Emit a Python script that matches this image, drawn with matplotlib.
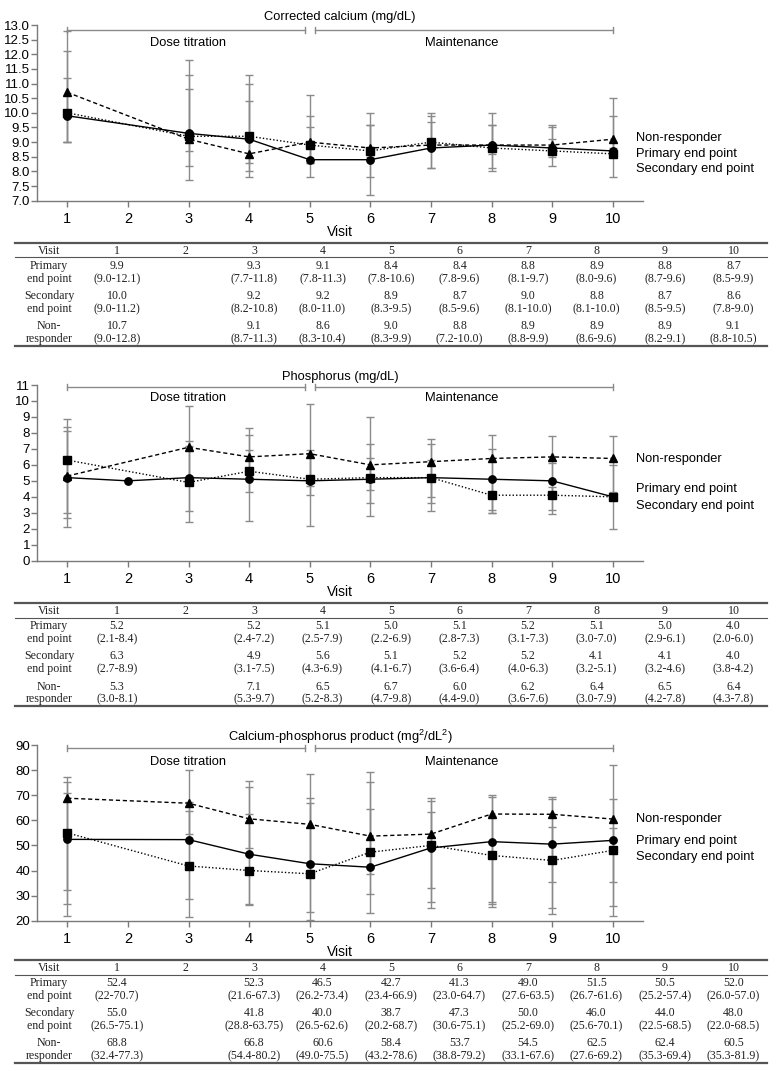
import numpy as np
import matplotlib
matplotlib.use("Agg")
import matplotlib.pyplot as plt

plt.rcParams['font.family'] = ['Liberation Sans', 'DejaVu Sans']
plt.rcParams['mathtext.fontset'] = 'custom'
plt.rcParams['mathtext.rm'] = 'Liberation Sans'

# visits that have values (visit 2 has none, except phosphorus primary)
visits = [1, 3, 4, 5, 6, 7, 8, 9, 10]
table_cols = ['1', '2', '3', '4', '5', '6', '7', '8', '9', '10']
row_names = [('Primary', 'end point'), ('Secondary', 'end point'), ('Non-', 'responder')]
legend_names = ['Non-responder', 'Primary end point', 'Secondary end point']

# corrected calcium (mg/dL): median, low, high
ca_prim = [9.9, 9.3, 9.1, 8.4, 8.4, 8.8, 8.9, 8.8, 8.7]
ca_prim_lo = [9.0, 7.7, 7.8, 7.8, 7.8, 8.1, 8.0, 8.7, 8.5]
ca_prim_hi = [12.1, 11.8, 11.3, 10.6, 9.6, 9.7, 9.6, 9.6, 9.9]
ca_sec = [10.0, 9.2, 9.2, 8.9, 8.7, 9.0, 8.8, 8.7, 8.6]
ca_sec_lo = [9.0, 8.2, 8.0, 8.3, 8.5, 8.1, 8.1, 8.5, 7.8]
ca_sec_hi = [11.2, 10.8, 11.0, 9.5, 9.6, 10.0, 10.0, 9.5, 9.0]
ca_non = [10.7, 9.1, 8.6, 9.0, 8.8, 8.9, 8.9, 8.9, 9.1]
ca_non_lo = [9.0, 8.7, 8.3, 8.3, 7.2, 8.8, 8.6, 8.2, 8.8]
ca_non_hi = [12.8, 11.3, 10.4, 9.9, 10.0, 9.9, 9.6, 9.1, 10.5]

# phosphorus (mg/dL)
ph_prim = [5.2, 5.2, 5.1, 5.0, 5.1, 5.2, 5.1, 5.0, 4.0]
ph_prim_lo = [2.1, 2.4, 2.5, 2.2, 2.8, 3.1, 3.0, 2.9, 2.0]
ph_prim_hi = [8.4, 7.2, 7.9, 6.9, 7.3, 7.3, 7.0, 6.1, 6.0]
ph_prim_visit2 = 5.0
ph_sec = [6.3, 4.9, 5.6, 5.1, 5.2, 5.2, 4.1, 4.1, 4.0]
ph_sec_lo = [2.7, 3.1, 4.3, 4.1, 3.6, 4.0, 3.2, 3.2, 3.8]
ph_sec_hi = [8.9, 7.5, 6.9, 6.7, 6.4, 6.3, 5.1, 4.6, 4.2]
ph_non = [5.3, 7.1, 6.5, 6.7, 6.0, 6.2, 6.4, 6.5, 6.4]
ph_non_lo = [3.0, 5.3, 5.2, 4.7, 4.4, 3.6, 3.0, 4.2, 4.3]
ph_non_hi = [8.1, 9.7, 8.3, 9.8, 9.0, 7.6, 7.9, 7.8, 7.8]

# calcium-phosphorus product (mg2/dL2)
cp_prim = [52.4, 52.3, 46.5, 42.7, 41.3, 49.0, 51.5, 50.5, 52.0]
cp_prim_lo = [22, 21.6, 26.2, 23.4, 23.0, 27.6, 26.7, 25.2, 26.0]
cp_prim_hi = [70.7, 67.3, 73.4, 66.9, 64.7, 63.5, 61.6, 57.4, 57.0]
cp_sec = [55.0, 41.8, 40.0, 38.7, 47.3, 50.0, 46.0, 44.0, 48.0]
cp_sec_lo = [26.5, 28.8, 26.5, 20.2, 30.6, 25.2, 25.6, 22.5, 22.0]
cp_sec_hi = [75.1, 63.75, 62.6, 68.7, 75.1, 69.0, 70.1, 68.5, 68.5]
cp_non = [68.8, 66.8, 60.6, 58.4, 53.7, 54.5, 62.5, 62.4, 60.5]
cp_non_lo = [32.4, 54.4, 49.0, 43.2, 38.8, 33.1, 27.6, 35.3, 35.3]
cp_non_hi = [77.3, 80.2, 75.5, 78.6, 79.2, 67.6, 69.2, 69.4, 81.9]

W, H = 782, 1081
GRAY = '#8a8a8a'
AXC = '#7a7a7a'
FS = 9.3
fig = plt.figure(figsize=(W / 100, H / 100), dpi=100)


def draw_panel(ax, prim, sec, non, ylim, yticks, yfmt, title, lab_y, br_y, ph_y, prim_line=None):
    x = np.array(visits)
    for med, lo, hi in [prim, sec, non]:
        med = np.array(med); lo = np.array(lo); hi = np.array(hi)
        ax.errorbar(x, med, yerr=[med - lo, hi - med], fmt='none', ecolor=GRAY,
                    elinewidth=1, capsize=3, capthick=1, zorder=1)
    px, py = (x, prim[0]) if prim_line is None else prim_line
    ax.plot(px, py, color='black', lw=1, ls='-', marker='o', ms=5.3, zorder=3)
    ax.plot(x, sec[0], color='black', lw=1, ls=(0, (1, 1.5)), marker='s', ms=5.2, zorder=3)
    ax.plot(x, non[0], color='black', lw=1, ls=(0, (3, 2)), marker='^', ms=5.8, zorder=3)

    ax.set_xlim(0.5, 10.5)
    ax.set_ylim(*ylim)
    ax.set_xticks(range(1, 11))
    ax.set_yticks(yticks)
    ax.set_yticklabels([yfmt % v for v in yticks])
    for s in ['top', 'right']:
        ax.spines[s].set_visible(False)
    for s in ['left', 'bottom']:
        ax.spines[s].set_color(AXC)
        ax.spines[s].set_linewidth(1)
    ax.tick_params(axis='both', colors=AXC, length=4, width=1, direction='out')
    ax.tick_params(axis='y', labelcolor='black', labelsize=9.5, pad=1)
    ax.tick_params(axis='x', labelcolor='black', labelsize=10.5, pad=4)
    ax.set_xlabel('Visit', fontsize=10, labelpad=0)
    ax.xaxis.set_label_coords(0.5, -0.14)

    ax.text(0.5, 1.045, title, transform=ax.transAxes, ha='center', va='center', fontsize=FS)

    # phase bracket
    tr = ax.get_xaxis_transform()
    segs = [(1, 4.92), (5.08, 10)]
    for a, b in segs:
        ax.plot([a, b], [br_y, br_y], color=GRAY, lw=1, transform=tr, clip_on=False)
        for e in (a, b):
            ax.plot([e, e], [br_y - 0.015, br_y + 0.015], color=GRAY, lw=1,
                    transform=tr, clip_on=False)
    ax.text(3, ph_y, 'Dose titration', transform=tr, ha='center', va='center', fontsize=FS)
    ax.text(7.5, ph_y, 'Maintenance', transform=tr, ha='center', va='center', fontsize=FS)

    for name, yy in zip(legend_names, lab_y):
        ax.text(10.38, yy, name, ha='left', va='center', fontsize=FS, clip_on=False)


def add_axes_px(top, bottom):
    return fig.add_axes([37 / W, (H - bottom) / H, 606 / W, (bottom - top) / H])


ax1 = add_axes_px(25, 200.7)
draw_panel(ax1, (ca_prim, ca_prim_lo, ca_prim_hi), (ca_sec, ca_sec_lo, ca_sec_hi),
           (ca_non, ca_non_lo, ca_non_hi), (7, 13), np.arange(7, 13.01, 0.5), '%.1f',
           'Corrected calcium (mg/dL)', [9.14, 8.59, 8.08], 0.972, 0.898)

ax2 = add_axes_px(385, 560.7)
ph_line_x = [1, 2] + visits[1:]
ph_line_y = [ph_prim[0], ph_prim_visit2] + ph_prim[1:]
draw_panel(ax2, (ph_prim, ph_prim_lo, ph_prim_hi), (ph_sec, ph_sec_lo, ph_sec_hi),
           (ph_non, ph_non_lo, ph_non_hi), (0, 11), np.arange(0, 12, 1), '%d',
           'Phosphorus (mg/dL)', [6.37, 4.49, 3.42], 0.989, 0.926,
           prim_line=(ph_line_x, ph_line_y))

ax3 = add_axes_px(745, 920.7)
draw_panel(ax3, (cp_prim, cp_prim_lo, cp_prim_hi), (cp_sec, cp_sec_lo, cp_sec_hi),
           (cp_non, cp_non_lo, cp_non_hi), (20, 90), np.arange(20, 91, 10), '%d',
           r'Calcium-phosphorus product (mg$^2$/dL$^2$)', [60.5, 51.7, 45.4], 0.983, 0.904)

# tables, drawn in pixel coordinates
axt = fig.add_axes([0, 0, 1, 1])
axt.set_xlim(0, W)
axt.set_ylim(H, 0)
axt.axis('off')

col_x = [117 + 68.5 * i for i in range(10)]
data_cols = [0, 2, 3, 4, 5, 6, 7, 8, 9]
TF = dict(family=['Liberation Serif', 'DejaVu Serif'], fontsize=8.6, color='#222222',
          ha='center', va='center')


def draw_table(top, rows):
    axt.plot([15, 767], [top, top], color='#555555', lw=1.6)
    axt.plot([15, 767], [top + 14.6, top + 14.6], color='#555555', lw=0.8)
    axt.plot([15, 767], [top + 103, top + 103], color='#555555', lw=1.6)
    axt.text(49, top + 8, 'Visit', **TF)
    for c, lab in zip(col_x, table_cols):
        axt.text(c, top + 8, lab, **TF)
    for r, (names, (med, lo, hi)) in enumerate(zip(row_names, rows)):
        y1 = top + 23.3 + 30.1 * r
        y2 = y1 + 12.8
        axt.text(49, y1, names[0], **TF)
        axt.text(49, y2, names[1], **TF)
        for k, ci in enumerate(data_cols):
            axt.text(col_x[ci], y1, f'{med[k]}', **TF)
            axt.text(col_x[ci], y2, f'({lo[k]}-{hi[k]})', **TF)


draw_table(242.7, [(ca_prim, ca_prim_lo, ca_prim_hi), (ca_sec, ca_sec_lo, ca_sec_hi),
                   (ca_non, ca_non_lo, ca_non_hi)])
draw_table(603, [(ph_prim, ph_prim_lo, ph_prim_hi), (ph_sec, ph_sec_lo, ph_sec_hi),
                 (ph_non, ph_non_lo, ph_non_hi)])
draw_table(960, [(cp_prim, cp_prim_lo, cp_prim_hi), (cp_sec, cp_sec_lo, cp_sec_hi),
                 (cp_non, cp_non_lo, cp_non_hi)])

fig.savefig('out.png', dpi=100)
